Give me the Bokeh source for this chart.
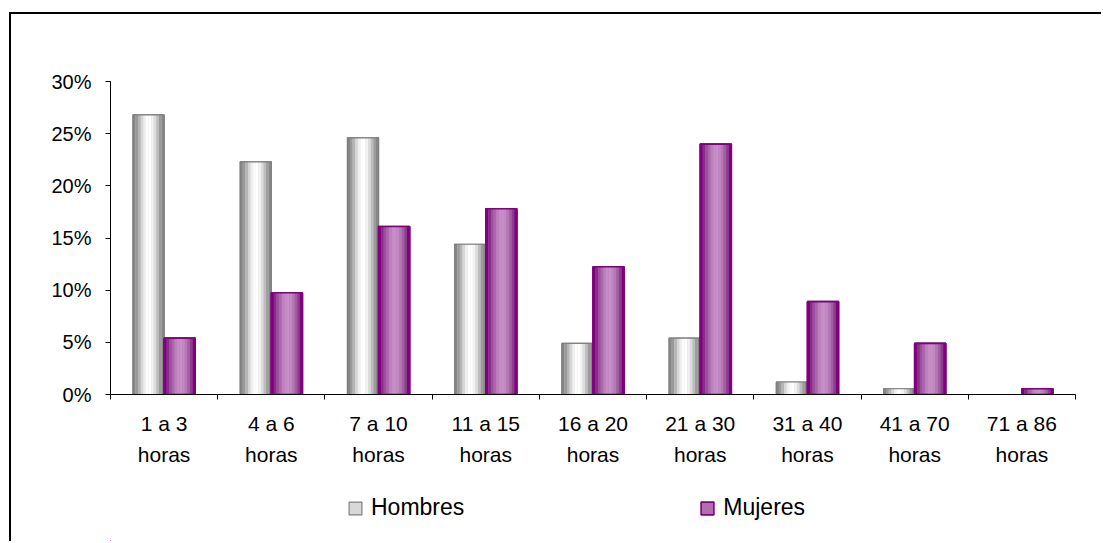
from bokeh.plotting import figure
from bokeh.layouts import column
from bokeh.models import (Range1d, FixedTicker, NumeralTickFormatter, Legend, LegendItem)
from bokeh.embed import file_html
from bokeh.resources import INLINE
import numpy as np

# ---- data ----
ranges = ["1 a 3", "4 a 6", "7 a 10", "11 a 15", "16 a 20", "21 a 30", "31 a 40", "41 a 70", "71 a 86"]
unit = "horas"
hombres = [0.268, 0.223, 0.246, 0.144, 0.049, 0.054, 0.012, 0.0055, 0.0]
mujeres = [0.054, 0.0975, 0.161, 0.178, 0.1225, 0.240, 0.089, 0.049, 0.0055]
series_names = ["Hombres", "Mujeres"]
y_ticks = [0.0, 0.05, 0.10, 0.15, 0.20, 0.25, 0.30]

FONT = "Liberation Sans"
n = len(ranges)
centers = np.arange(n) + 0.5
bar_w = 0.29
offsets = [-bar_w / 2, bar_w / 2]

p = figure(width=1092, height=466, output_backend="svg", toolbar_location=None,
           x_range=Range1d(0, n), y_range=Range1d(0, 0.30),
           min_border_left=99, min_border_right=28, min_border_top=67, min_border_bottom=86,
           margin=(12, 0, 0, 9),
           styles={"border-left": "2px solid #000000", "border-top": "2px solid #000000"})
p.outline_line_color = None
p.grid.visible = False
p.background_fill_color = "white"
p.border_fill_color = "white"

# gradient profiles (left -> right) for cylinder-like shading
h_profile = ["#858585", "#999999", "#b5b5b5", "#d6d6d6", "#efefef", "#fdfdfd",
             "#ffffff", "#f2f2f2", "#dcdcdc", "#bdbdbd", "#9c9c9c", "#878787"]
m_profile = ["#800080", "#8a2a8a", "#9a509a", "#aa68aa", "#bc80bc", "#c68cc6",
             "#c890c8", "#c288c2", "#b478b4", "#a060a0", "#8c3c8c", "#800080"]
styles = [
    dict(profile=h_profile, line="#808080", base="#d8d8d8", lw=1.2),
    dict(profile=m_profile, line="#800080", base="#b070b0", lw=1.6),
]

for name, vals, off, st in zip(series_names, [hombres, mujeres], offsets, styles):
    xs = centers + off
    p.vbar(x=xs, top=vals, bottom=0, width=bar_w, fill_color=st["base"],
           line_color=st["line"], line_width=st["lw"])
    k = len(st["profile"])
    sw = bar_w / k
    for j, c in enumerate(st["profile"]):
        p.vbar(x=xs - bar_w / 2 + sw * (j + 0.5), top=vals, bottom=0, width=sw * 1.02,
               fill_color=c, line_color=None)
    p.vbar(x=xs, top=vals, bottom=0, width=bar_w, fill_color=None,
           line_color=st["line"], line_width=st["lw"])

# y axis
ya = p.yaxis[0]
ya.ticker = FixedTicker(ticks=y_ticks, minor_ticks=[])
ya.formatter = NumeralTickFormatter(format="0%")
ya.axis_line_color = "black"
ya.major_tick_line_color = "black"
ya.major_tick_in = 0
ya.major_tick_out = 5
ya.minor_tick_line_color = None
ya.major_label_standoff = 14
ya.major_label_text_font = FONT
ya.major_label_text_font_size = "20px"
ya.major_label_text_color = "#000000"

# x axis: labels at category centres, tick marks at category boundaries
xa = p.xaxis[0]
xa.ticker = FixedTicker(ticks=list(centers), minor_ticks=list(np.arange(n + 1)))
xa.major_label_overrides = {float(c): f"{r}\n{unit}" for c, r in zip(centers, ranges)}
xa.axis_line_color = "black"
xa.major_tick_line_color = None
xa.major_tick_in = 0
xa.major_tick_out = 0
xa.minor_tick_line_color = "black"
xa.minor_tick_in = 0
xa.minor_tick_out = 5
xa.major_label_standoff = 12
xa.major_label_text_font = FONT
xa.major_label_text_font_size = "21px"
xa.major_label_text_line_height = 1.38
xa.major_label_text_color = "#000000"

# legend strip below the chart (its bars lie far outside this strip's view; only the legend shows)
p2 = figure(width=1092, height=63, output_backend="svg", toolbar_location=None,
            x_range=Range1d(n + 10, n + 11), y_range=Range1d(10, 11),
            x_axis_type=None, y_axis_type=None,
            min_border_left=0, min_border_right=0, min_border_top=0, min_border_bottom=0,
            margin=(0, 0, 0, 9), styles={"border-left": "2px solid #000000"})
p2.outline_line_color = None
p2.grid.visible = False
items = []
for name, vals, off, st in zip(series_names, [hombres, mujeres], offsets, styles):
    r = p2.vbar(x=centers + off, top=vals, bottom=0, width=bar_w, fill_color=st["base"],
                line_color=st["line"], line_width=st["lw"])
    items.append(LegendItem(label=name, renderers=[r]))
legend = Legend(items=items, orientation="horizontal", location=(237, 20),
                spacing=235, glyph_width=16, glyph_height=16, label_standoff=8,
                label_text_font=FONT, label_text_font_size="23px",
                label_text_color="#000000", border_line_color=None,
                background_fill_alpha=0, padding=0, margin=0)
p2.add_layout(legend, "center")

layout = column(p, p2, spacing=0)
open("out.html", "w").write(file_html(layout, INLINE))
